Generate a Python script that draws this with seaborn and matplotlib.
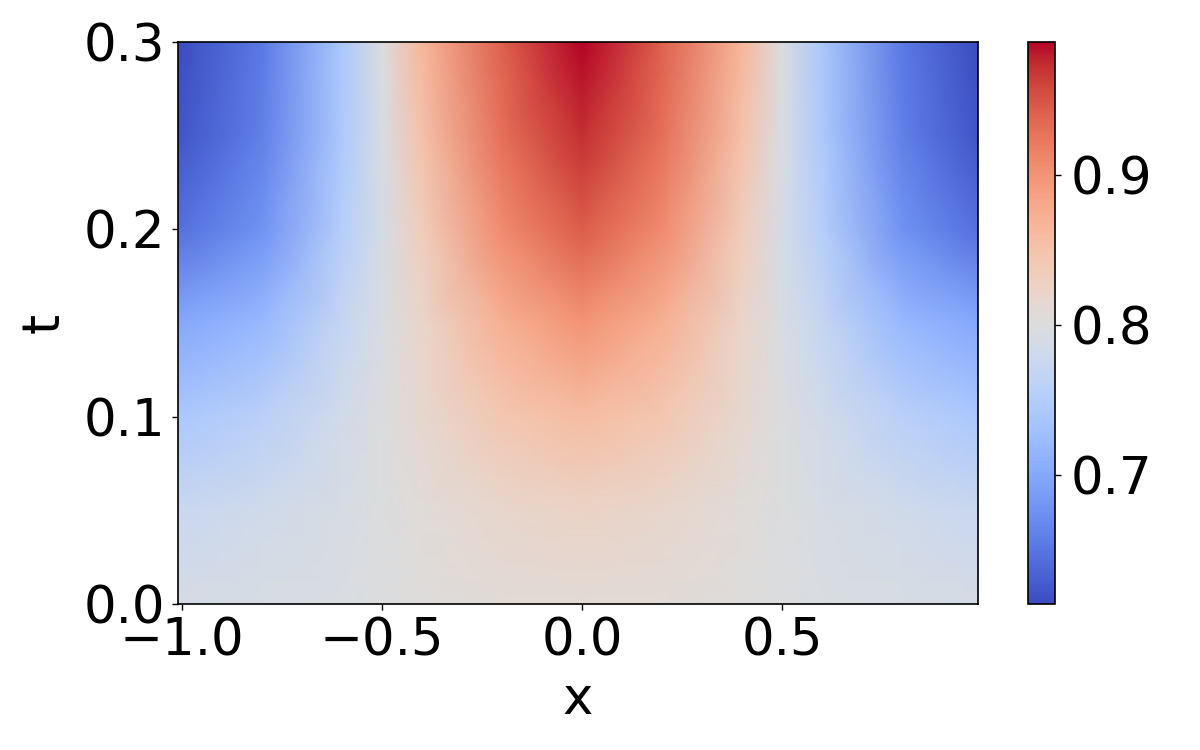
# heatmap of u(x, t) with coolwarm colours

import numpy as np
import matplotlib
matplotlib.use("Agg")
import matplotlib.pyplot as plt
import seaborn as sns

# %%
# values (coarse grid, shaded smoothly by matplotlib)
x_pts = [-1.01, -0.8, -0.6, -0.5, -0.4, -0.2, 0.0, 0.2, 0.4, 0.5, 0.6, 0.8, 0.99]
t_pts = [0.0, 0.05, 0.1, 0.15, 0.2, 0.25, 0.3]

u_t000 = [0.790, 0.793, 0.797, 0.800, 0.803, 0.808, 0.810, 0.808, 0.803, 0.800, 0.797, 0.793, 0.790]
u_t005 = [0.775, 0.783, 0.793, 0.800, 0.806, 0.818, 0.824, 0.818, 0.806, 0.800, 0.793, 0.783, 0.775]
u_t010 = [0.740, 0.757, 0.785, 0.800, 0.815, 0.845, 0.858, 0.845, 0.815, 0.800, 0.785, 0.757, 0.740]
u_t015 = [0.700, 0.720, 0.770, 0.795, 0.822, 0.872, 0.900, 0.872, 0.822, 0.795, 0.770, 0.720, 0.700]
u_t020 = [0.645, 0.678, 0.752, 0.790, 0.835, 0.908, 0.945, 0.908, 0.835, 0.790, 0.752, 0.678, 0.645]
u_t025 = [0.622, 0.660, 0.742, 0.795, 0.852, 0.930, 0.972, 0.930, 0.852, 0.795, 0.742, 0.660, 0.622]
u_t030 = [0.615, 0.655, 0.740, 0.800, 0.865, 0.942, 0.988, 0.942, 0.865, 0.800, 0.740, 0.655, 0.615]

u = np.array([u_t000, u_t005, u_t010, u_t015, u_t020, u_t025, u_t030])

# %%
sns.set_style("ticks", {"axes.edgecolor": "black", "text.color": "black",
                        "axes.labelcolor": "black", "xtick.color": "black",
                        "ytick.color": "black"})
plt.rcParams['font.family'] = ['DejaVu Sans']

fig = plt.figure(figsize=(12, 7.5), dpi=100)
ax = fig.add_axes([0.1483, 0.1947, 0.6667, 0.7493])
cax = fig.add_axes([0.8567, 0.1947, 0.0225, 0.7493])

mesh = ax.pcolormesh(x_pts, t_pts, u, cmap='coolwarm', shading='gouraud',
                     vmin=0.614, vmax=0.989)
ax.set_xlim(-1.01, 0.99)
ax.set_ylim(0, 0.3)
ax.set_xticks([-1.0, -0.5, 0.0, 0.5])
ax.set_yticks([0.0, 0.1, 0.2, 0.3])
ax.set_xlabel('x', fontsize=37, labelpad=6)
ax.set_ylabel('t', fontsize=37, labelpad=10)
ax.tick_params(labelsize=37, length=4, width=1.0)
ax.tick_params(axis='x', pad=5)
ax.tick_params(axis='y', pad=5)
for s in ax.spines.values():
    s.set_linewidth(1.2)

cb = fig.colorbar(mesh, cax=cax)
cb.set_ticks([0.7, 0.8, 0.9])
cb.ax.tick_params(labelsize=37, length=4, width=1.0, pad=7)
cb.outline.set_linewidth(1.2)

fig.savefig('out.png', dpi=100)
